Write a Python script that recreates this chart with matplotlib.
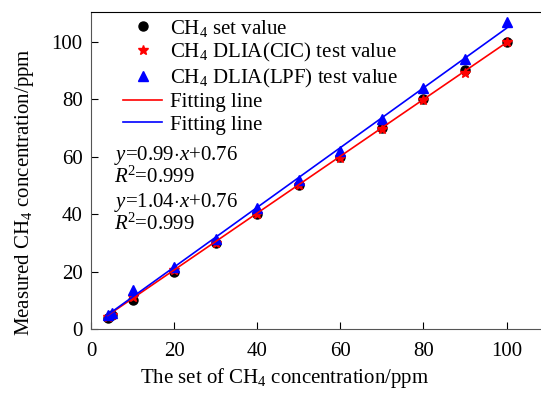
import numpy as np
import matplotlib.pyplot as plt

plt.rcParams['font.family'] = 'Liberation Serif'
plt.rcParams['mathtext.fontset'] = 'custom'
plt.rcParams['mathtext.rm'] = 'Liberation Serif'
plt.rcParams['mathtext.it'] = 'Liberation Serif:italic'

# Concentraciones fijadas y medidas (ppm)
set_conc = [4, 5, 10, 20, 30, 40, 50, 60, 70, 80, 90, 100]
set_value = [4, 5, 10, 20, 30, 40, 50, 60, 70, 80, 90.3, 100]
cic_value = [4.2, 5, 11, 20.5, 30, 40, 50, 59.7, 69.8, 79.8, 89, 100]
lpf_value = [5, 5.5, 13.5, 21.5, 31.5, 42, 52, 62, 73, 84, 94, 107]

# Rectas de ajuste
k_cic, b_cic = 0.99, 0.76
k_lpf, b_lpf = 1.04, 0.76

fs = 15
fig = plt.figure(figsize=(5.41, 3.93), dpi=100)
ax = fig.add_axes([91/541, 64/393, 450/541, 317/393])

x_fit = np.array([4, 100])
ax.plot(set_conc, set_value, 'o', color='black', ms=6.5, label='CH$_4$ set value')
ax.plot(set_conc, cic_value, '*', color='red', ms=7.5, label='CH$_4$ DLIA(CIC) test value')
ax.plot(set_conc, lpf_value, '^', color='blue', ms=7.5, label='CH$_4$ DLIA(LPF) test value')
ax.plot(x_fit, k_cic*x_fit + b_cic, color='red', lw=1.2, label='Fitting line')
ax.plot(x_fit, k_lpf*x_fit + b_lpf, color='blue', lw=1.2, label='Fitting line')

ax.text(5.5, 60.4, '$y$=0.99$\\cdot x$+0.76', fontsize=fs, va='center')
ax.text(5.5, 52.8, '$R$$^2$=0.999', fontsize=fs, va='center')
ax.text(5.5, 44.0, '$y$=1.04$\\cdot x$+0.76', fontsize=fs, va='center')
ax.text(5.5, 36.4, '$R$$^2$=0.999', fontsize=fs, va='center')

ax.legend(loc='upper left', bbox_to_anchor=(0.043, 1.022), frameon=False, fontsize=fs,
          handlelength=1.9, handletextpad=0.35, labelspacing=0.13, borderaxespad=0.2)

ax.set_xlim(0, 108.3)
ax.set_ylim(0, 110.4)
ax.set_xticks([0, 20, 40, 60, 80, 100])
ax.set_yticks([0, 20, 40, 60, 80, 100])
ax.tick_params(direction='in', length=5, width=0.8, labelsize=fs)
ax.tick_params(axis='x', pad=9)
ax.tick_params(axis='y', pad=6)
ax.spines['right'].set_visible(False)
for s in ['left', 'bottom']:
    ax.spines[s].set_color('#555555')
ax.spines['top'].set_color('black')

ax.set_xlabel('The set of CH$_4$ concentration/ppm', fontsize=fs)
ax.set_ylabel('Measured CH$_4$ concentration/ppm', fontsize=fs)
ax.xaxis.set_label_coords(0.431, -0.118)
ax.yaxis.set_label_coords(-0.122, 0.432)

fig.savefig('out.png', dpi=100)
